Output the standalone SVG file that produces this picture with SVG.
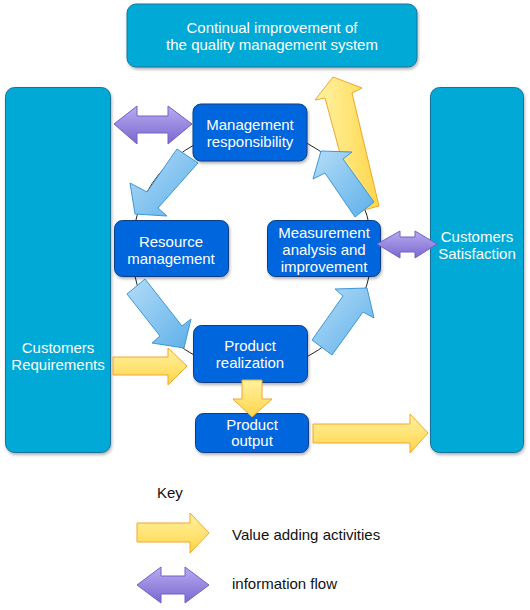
<svg xmlns="http://www.w3.org/2000/svg" width="530" height="610" viewBox="0 0 530 610">
<defs>
<linearGradient id="gBlue" x1="0" y1="0" x2="1" y2="1"><stop offset="0" stop-color="#b4dcf7"/><stop offset="1" stop-color="#5eb0ea"/></linearGradient>
<linearGradient id="gYel" x1="0" y1="0" x2="1" y2="0"><stop offset="0" stop-color="#fff4a6"/><stop offset="1" stop-color="#ffd64c"/></linearGradient>
<linearGradient id="gYelV" x1="0" y1="0" x2="0" y2="1"><stop offset="0" stop-color="#fff2a0"/><stop offset="1" stop-color="#ffd54a"/></linearGradient>
<linearGradient id="gPur" x1="0" y1="0" x2="0" y2="1"><stop offset="0" stop-color="#b8abf0"/><stop offset="1" stop-color="#7a68cf"/></linearGradient>
<filter id="sh" x="-10%" y="-10%" width="130%" height="130%"><feDropShadow dx="1" dy="2" stdDeviation="1.5" flood-color="#000" flood-opacity="0.3"/></filter>
</defs>
<style>
.cyan{fill:#00a9d6;stroke:#16729a;stroke-width:1;filter:url(#sh)}
.node{fill:#0566de;stroke:#0b3d86;stroke-width:1;filter:url(#sh)}
.t{font-family:"Liberation Sans",Arial,Helvetica,sans-serif;font-size:15px;fill:#fff;text-anchor:middle}
.k{font-family:"Liberation Sans",Arial,Helvetica,sans-serif;font-size:15px;fill:#111}
.blue{fill:url(#gBlue);stroke:#3d97d8;stroke-width:1;stroke-linejoin:miter}
.yel{fill:url(#gYel);stroke:#f3a52a;stroke-width:1}
.yelv{fill:url(#gYelV);stroke:#f3a52a;stroke-width:1}
.pur{fill:url(#gPur);stroke:#7460c8;stroke-width:1}
</style>
<rect width="530" height="610" fill="#fff"/>
<g id="cycle"><circle cx="252" cy="250" r="120" fill="none" stroke="#222" stroke-width="1"/></g>
<g id="continual">
<rect class="cyan" x="127" y="4" width="290" height="63" rx="9"/>
<text class="t" x="272" y="33">Continual improvement of</text>
<text class="t" x="272" y="50">the quality management system</text>
</g>
<g id="customers-requirements">
<rect class="cyan" x="5.5" y="87.5" width="105" height="365" rx="9"/>
<text class="t" x="58" y="353">Customers</text>
<text class="t" x="58" y="370">Requirements</text>
</g>
<g id="customers-satisfaction">
<rect class="cyan" x="430.5" y="87.5" width="93" height="365" rx="9"/>
<text class="t" x="477" y="242">Customers</text>
<text class="t" x="477" y="259">Satisfaction</text>
</g>
<g id="management">
<rect class="node" x="193" y="104" width="114" height="57" rx="8"/>
<text class="t" x="250" y="130">Management</text>
<text class="t" x="250" y="147">responsibility</text>
</g>
<g id="resource">
<rect class="node" x="114.5" y="220.5" width="114" height="56" rx="8"/>
<text class="t" x="171" y="247">Resource</text>
<text class="t" x="171" y="264">management</text>
</g>
<g id="measurement">
<rect class="node" x="267.5" y="220.5" width="113" height="56" rx="8"/>
<text class="t" x="324" y="238">Measurement</text>
<text class="t" x="324" y="255">analysis and</text>
<text class="t" x="324" y="272">improvement</text>
</g>
<g id="realization">
<rect class="node" x="193.5" y="325.5" width="114" height="57" rx="8"/>
<text class="t" x="250" y="351">Product</text>
<text class="t" x="250" y="368">realization</text>
</g>
<g id="output">
<rect class="node" x="195.5" y="413.5" width="113" height="39" rx="8"/>
<text class="t" x="252" y="430">Product</text>
<text class="t" x="252" y="446">output</text>
</g>
<g id="connectors">
<polygon class="yel" points="356,212 325,98 315,100 333,77 362,88 352,93 379,206"/>
<polygon class="blue" points="177,149 147,192 130,183 135,214 167,216 158,208 198,163"/>
<polygon class="blue" points="145,279 182,326 191,319 184,348 152,343 160,336 127,294"/>
<polygon class="blue" points="312,340 343,296 335,289 367,288 374,318 363,312 332,355"/>
<polygon class="blue" points="374,202 343,159 352,152 321,151 313,179 325,173 355,217"/>
<polygon class="yelv" points="113,357 168,357 168,348 187,366 168,385 168,375 113,375"/>
<polygon class="yelv" points="242,380 262,380 262,399 272,399 252,417 233,399 242,399"/>
<polygon class="yelv" points="313,424 410,424 410,414 428,433 410,453 410,443 313,443"/>
<polygon class="pur" points="114,124 137,106 137,116 168,116 168,106 192,124 168,144 168,133 137,133 137,144"/>
<polygon class="pur" points="377,244 400,231 400,237 415,237 415,231 437,244 415,258 415,252 400,252 400,258"/>
</g>
<g id="key">
<text class="k" x="157" y="498">Key</text>
<polygon class="yelv" points="137,523 190,523 190,513 209,533 190,553 190,542 137,542"/>
<text class="k" x="232" y="540">Value adding activities</text>
<polygon class="pur" points="137,585 161,567 161,576 185,576 185,567 209,585 185,603 185,594 161,594 161,603"/>
<text class="k" x="232" y="589">information flow</text>
</g>
</svg>
